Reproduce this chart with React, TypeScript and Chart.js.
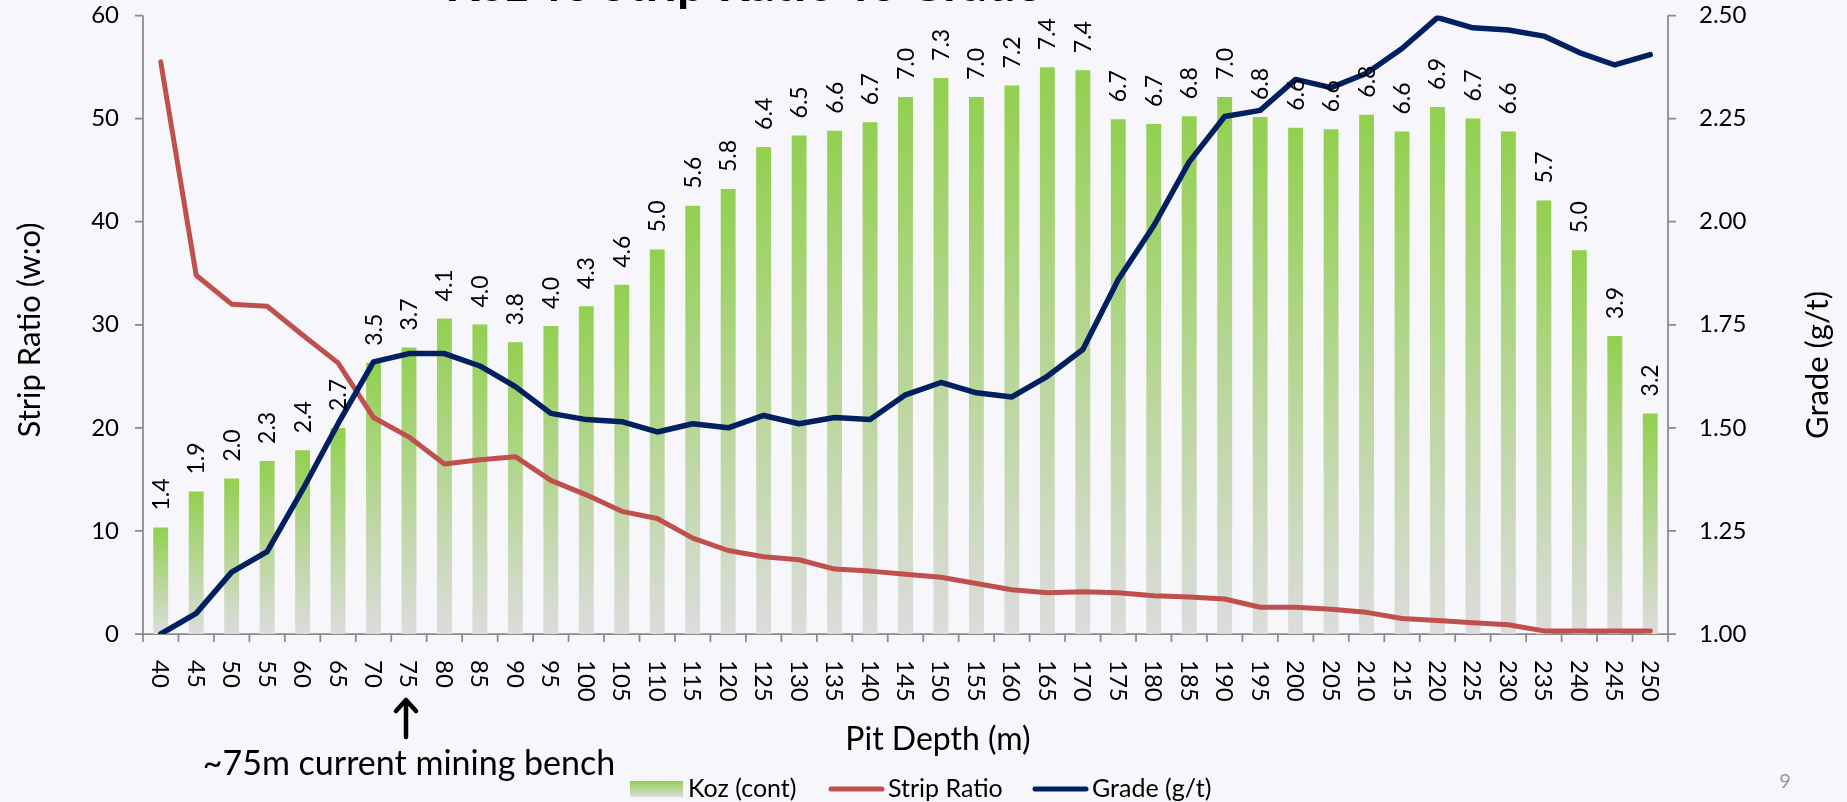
import { useEffect, useRef } from 'react';
import { Chart, registerables } from 'chart.js';

Chart.register(...registerables);

// ---------- data ----------
const depths = ['40', '45', '50', '55', '60', '65', '70', '75', '80', '85', '90', '95', '100', '105', '110', '115', '120', '125', '130', '135', '140', '145', '150', '155', '160', '165', '170', '175', '180', '185', '190', '195', '200', '205', '210', '215', '220', '225', '230', '235', '240', '245', '250'];

// bar heights (Koz, contained)
const kozCont = [1.39, 1.86, 2.03, 2.26, 2.4, 2.69, 3.54, 3.74, 4.12, 4.04, 3.81, 4.02, 4.28, 4.56, 5.02, 5.59, 5.81, 6.36, 6.51, 6.57, 6.68, 7.01, 7.26, 7.01, 7.16, 7.4, 7.36, 6.72, 6.66, 6.76, 7.01, 6.75, 6.61, 6.59, 6.78, 6.56, 6.88, 6.73, 6.56, 5.66, 5.01, 3.89, 2.88];

// printed bar labels
const kozLabels = ['1.4', '1.9', '2.0', '2.3', '2.4', '2.7', '3.5', '3.7', '4.1', '4.0', '3.8', '4.0', '4.3', '4.6', '5.0', '5.6', '5.8', '6.4', '6.5', '6.6', '6.7', '7.0', '7.3', '7.0', '7.2', '7.4', '7.4', '6.7', '6.7', '6.8', '7.0', '6.8', '6.6', '6.6', '6.8', '6.6', '6.9', '6.7', '6.6', '5.7', '5.0', '3.9', '3.2'];

const stripRatio = [55.5, 34.8, 32.0, 31.8, 29.0, 26.3, 21.0, 19.1, 16.5, 16.9, 17.2, 14.9, 13.5, 11.9, 11.2, 9.3, 8.1, 7.5, 7.2, 6.3, 6.1, 5.8, 5.5, 4.9, 4.3, 4.0, 4.1, 4.0, 3.7, 3.6, 3.4, 2.6, 2.6, 2.4, 2.1, 1.5, 1.3, 1.1, 0.9, 0.3, 0.3, 0.3, 0.3];

const grade = [1.0, 1.05, 1.15, 1.2, 1.35, 1.51, 1.66, 1.68, 1.68, 1.65, 1.6, 1.535, 1.52, 1.515, 1.49, 1.51, 1.5, 1.53, 1.51, 1.525, 1.52, 1.58, 1.61, 1.585, 1.575, 1.625, 1.69, 1.86, 1.99, 2.145, 2.255, 2.27, 2.345, 2.325, 2.36, 2.42, 2.495, 2.47, 2.465, 2.45, 2.41, 2.38, 2.405];

const stripTicks = [0, 10, 20, 30, 40, 50, 60];
const gradeTicks = [1.0, 1.25, 1.5, 1.75, 2.0, 2.25, 2.5];

const titleText = 'Koz vs Strip Ratio vs Grade';
const leftTitle = 'Strip Ratio (w:o)';
const rightTitle = 'Grade (g/t)';
const bottomTitle = 'Pit Depth (m)';
const noteText = '~75m current mining bench';
const legendLabels = ['Koz (cont)', 'Strip Ratio', 'Grade (g/t)'];
const pageNumber = '9';

// ---------- style ----------
const W = 1847;
const H = 802;
const BG = '#F7F7FB';
const GREEN = '#92D050';
const GRAY = '#DCDCDC';
const RED = '#C0504D';
const BLUE = '#002060';
const AXIS = '#8A8A8A';
const SANS = 'Lato, "Open Sans", sans-serif';
const LABEL_FONT = '23px Lato, sans-serif';

function barGradient(ctx: CanvasRenderingContext2D, top: number, bottom: number) {
  const g = ctx.createLinearGradient(0, top, 0, bottom);
  g.addColorStop(0, GREEN);
  g.addColorStop(1, GRAY);
  return g;
}

const customPlugin = {
  id: 'customDraw',
  beforeDraw(chart: any) {
    const c = chart.ctx;
    c.save();
    c.fillStyle = BG;
    c.fillRect(0, 0, chart.width, chart.height);
    c.restore();
  },
  beforeDatasetsDraw(chart: any) {
    const c: CanvasRenderingContext2D = chart.ctx;
    const { left, right, bottom } = chart.chartArea;
    const xs = chart.scales.x;
    const ys = chart.scales.y;
    const y2 = chart.scales.y2;
    c.save();
    c.strokeStyle = AXIS;
    c.lineWidth = 1.75;
    c.beginPath();
    c.moveTo(left, ys.getPixelForValue(60));
    c.lineTo(left, bottom);
    c.moveTo(right, y2.getPixelForValue(2.5));
    c.lineTo(right, bottom);
    c.moveTo(left, bottom);
    c.lineTo(right, bottom);
    stripTicks.forEach((v) => {
      const y = ys.getPixelForValue(v);
      c.moveTo(left - 8, y);
      c.lineTo(left, y);
    });
    gradeTicks.forEach((v) => {
      const y = y2.getPixelForValue(v);
      c.moveTo(right, y);
      c.lineTo(right + 8, y);
    });
    const x0 = xs.getPixelForValue(0);
    const step = xs.getPixelForValue(1) - x0;
    for (let i = 0; i <= depths.length; i++) {
      const x = x0 - step / 2 + i * step;
      c.moveTo(x, bottom);
      c.lineTo(x, bottom + 8);
    }
    c.stroke();

    c.fillStyle = '#000';
    c.font = '24px ' + SANS;
    c.textBaseline = 'middle';
    c.textAlign = 'right';
    stripTicks.forEach((v) => {
      c.fillText(String(v), left - 24, ys.getPixelForValue(v));
    });
    c.textAlign = 'left';
    gradeTicks.forEach((v) => {
      c.fillText(v.toFixed(2), right + 31, y2.getPixelForValue(v));
    });
    c.textBaseline = 'alphabetic';
    depths.forEach((d, i) => {
      const x = xs.getPixelForValue(i);
      c.save();
      c.translate(x - 8.5, bottom + 26);
      c.rotate(Math.PI / 2);
      c.fillText(d, 0, 0);
      c.restore();
    });
    c.restore();
  },
  afterDatasetsDraw(chart: any) {
    const c: CanvasRenderingContext2D = chart.ctx;
    const meta = chart.getDatasetMeta(0);
    c.save();
    c.fillStyle = '#000';
    c.font = LABEL_FONT;
    c.textAlign = 'left';
    c.textBaseline = 'alphabetic';
    meta.data.forEach((el: any, i: number) => {
      c.save();
      c.translate(el.x + 8, el.y - 17);
      c.rotate(-Math.PI / 2);
      c.fillText(kozLabels[i], 0, 0);
      c.restore();
    });
    c.restore();
  },
  afterDraw(chart: any) {
    const c: CanvasRenderingContext2D = chart.ctx;
    c.save();
    c.fillStyle = '#000';

    // title, mostly cut off at the top edge
    c.font = 'bold 50px ' + SANS;
    c.textAlign = 'left';
    c.textBaseline = 'alphabetic';
    c.fillText(titleText, 445, 1);

    // axis titles
    c.font = '31px ' + SANS;
    c.textAlign = 'center';
    c.save();
    c.translate(40, 330);
    c.rotate(-Math.PI / 2);
    c.fillText(leftTitle, 0, 0);
    c.restore();
    c.save();
    c.translate(1828, 365);
    c.rotate(-Math.PI / 2);
    c.fillText(rightTitle, 0, 0);
    c.restore();
    c.font = '32px ' + SANS;
    c.fillText(bottomTitle, 938, 750);

    // note + arrow
    c.font = '34px ' + SANS;
    c.textBaseline = 'middle';
    c.fillText(noteText, 409, 764);
    c.strokeStyle = '#000';
    c.lineWidth = 4.5;
    c.lineCap = 'round';
    c.lineJoin = 'round';
    c.beginPath();
    c.moveTo(406, 737);
    c.lineTo(406, 701);
    c.moveTo(396, 711);
    c.lineTo(406, 700);
    c.lineTo(416, 711);
    c.stroke();

    // legend
    const ly = 789;
    c.fillStyle = barGradient(c, 781, 797);
    c.fillRect(630, 781, 53, 16);
    c.lineWidth = 5;
    c.lineCap = 'round';
    c.strokeStyle = RED;
    c.beginPath();
    c.moveTo(831, ly);
    c.lineTo(882, ly);
    c.stroke();
    c.strokeStyle = BLUE;
    c.beginPath();
    c.moveTo(1035, ly);
    c.lineTo(1086, ly);
    c.stroke();
    c.fillStyle = '#000';
    c.font = '25px ' + SANS;
    c.textAlign = 'left';
    c.textBaseline = 'middle';
    c.fillText(legendLabels[0], 688, ly);
    c.fillText(legendLabels[1], 888, ly);
    c.fillText(legendLabels[2], 1092, ly);

    // page number
    c.fillStyle = '#9A9A9A';
    c.font = '20px ' + SANS;
    c.textAlign = 'center';
    c.fillText(pageNumber, 1785, 782);
    c.restore();
  },
};

export default function App() {
  const ref = useRef<HTMLCanvasElement | null>(null);

  useEffect(() => {
    document.body.style.margin = '0';
    document.body.style.background = BG;
    const canvas = ref.current;
    if (!canvas) return;
    const chart = new Chart(canvas, {
      type: 'bar',
      data: {
        labels: depths,
        datasets: [
          {
            type: 'bar',
            label: legendLabels[0],
            data: kozCont,
            yAxisID: 'yKoz',
            order: 3,
            categoryPercentage: 1,
            barPercentage: 0.42,
            borderWidth: 0,
            backgroundColor: (ctx: any) => {
              const chart = ctx.chart;
              if (!chart.chartArea || ctx.type !== 'data') return GREEN;
              const s = chart.scales.yKoz;
              return barGradient(chart.ctx, s.getPixelForValue(ctx.raw), s.getPixelForValue(0));
            },
          } as any,
          {
            type: 'line',
            label: legendLabels[1],
            data: stripRatio,
            yAxisID: 'y',
            order: 2,
            borderColor: RED,
            borderWidth: 5,
            pointRadius: 0,
            borderJoinStyle: 'round',
            borderCapStyle: 'round',
            tension: 0,
          },
          {
            type: 'line',
            label: legendLabels[2],
            data: grade,
            yAxisID: 'y2',
            order: 1,
            borderColor: BLUE,
            borderWidth: 5.5,
            pointRadius: 0,
            borderJoinStyle: 'round',
            borderCapStyle: 'round',
            tension: 0,
          },
        ],
      },
      options: {
        responsive: false,
        animation: false,
        layout: { padding: { left: 143, right: 179, top: 15.5, bottom: 168 } },
        plugins: { legend: { display: false }, tooltip: { enabled: false }, title: { display: false } },
        scales: {
          x: { display: false, offset: true },
          y: { display: false, min: 0, max: 60 },
          y2: { display: false, min: 1, max: 2.5 },
          yKoz: { display: false, min: 0, max: 60 / 7.43 },
        },
      },
      plugins: [customPlugin],
    });
    return () => chart.destroy();
  }, []);

  return <canvas ref={ref} width={W} height={H} style={{ display: 'block', width: W, height: H }} />;
}
